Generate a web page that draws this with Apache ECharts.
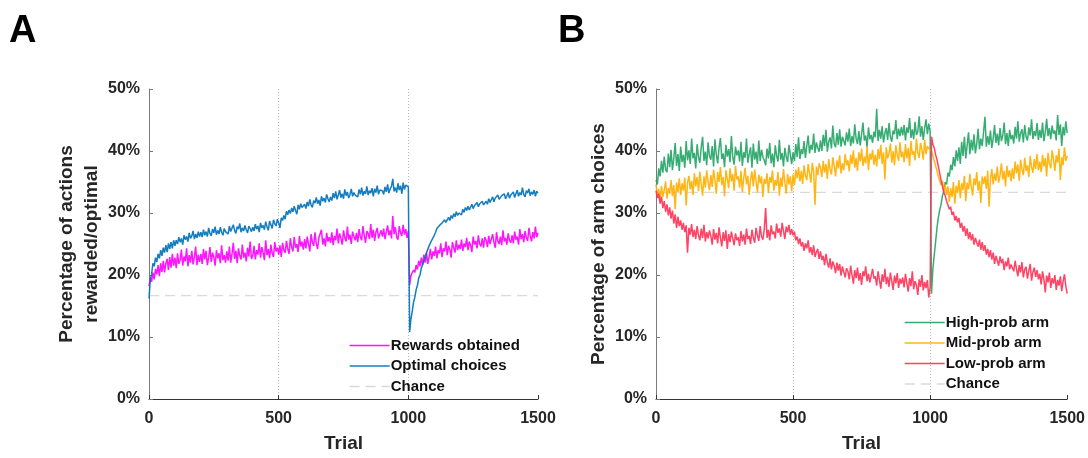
<!DOCTYPE html>
<html>
<head>
<meta charset="utf-8">
<title>Choice behaviour across trials</title>
<script src="https://cdn.jsdelivr.net/npm/echarts@6/dist/echarts.min.js"></script>
<style>
  html, body { margin: 0; padding: 0; background: #ffffff; }
  #chart { width: 1088px; height: 458px; }
</style>
</head>
<body>
<div id="chart"></div>
<script>
// Trials are sampled every 5 steps, from trial 0 to trial 1500 (301 samples per series).
const TRIAL_STEP = 5;

// Panel A: percentage of actions that were rewarded / optimal
const rewardsObtained = [
  18.2, 19.6, 18.9, 20.4, 19.3, 21.0, 20.1, 21.6, 19.8, 21.9, 20.5, 22.3, 20.4, 21.9, 22.6, 20.8, 22.9, 21.2, 23.4, 21.5,
  22.8, 21.1, 23.5, 21.8, 22.4, 24.1, 21.5, 23.0, 22.2, 24.3, 21.4, 23.2, 22.0, 23.9, 21.7, 22.9, 24.6, 21.6, 23.3, 22.1,
  23.4, 21.8, 24.2, 22.5, 23.9, 21.6, 22.8, 24.5, 22.1, 23.6, 22.9, 21.5, 24.0, 22.7, 23.5, 21.9, 24.8, 22.4, 23.2, 22.0,
  23.8, 22.3, 24.6, 22.0, 23.4, 25.2, 22.6, 23.9, 21.9, 24.3, 23.1, 22.5, 24.9, 22.8, 23.6, 22.2, 24.4, 23.0, 25.4, 22.6,
  23.1, 24.7, 22.5, 24.0, 23.3, 25.1, 22.8, 24.5, 23.6, 22.4, 25.6, 23.2, 24.2, 22.7, 24.9, 23.5, 22.9, 25.3, 23.8, 24.4,
  23.3, 24.8, 22.9, 25.2, 24.0, 23.6, 25.5, 24.2, 23.4, 25.9, 24.5, 23.8, 26.1, 24.4, 25.0, 23.7, 26.3, 24.6, 25.4, 24.1,
  25.8, 24.3, 26.2, 25.0, 23.8, 26.6, 25.3, 24.7, 26.9, 25.1, 24.2, 26.0, 25.7, 27.3, 24.9, 25.9, 24.6, 26.8, 25.4, 26.1,
  25.2, 26.9, 24.8, 26.3, 25.6, 27.5, 25.1, 26.7, 25.9, 24.9, 27.2, 26.0, 25.4, 27.8, 25.7, 26.5, 25.0, 27.0, 26.2, 25.6,
  26.8, 25.3, 27.4, 26.1, 25.6, 27.9, 26.4, 25.2, 27.1, 26.7, 25.8, 28.2, 26.0, 27.3, 25.5, 26.9, 27.6, 25.9, 26.6, 27.2,
  26.2, 27.5, 25.8, 26.9, 28.0, 26.4, 27.2, 25.9, 29.5, 26.6, 27.7, 26.1, 25.7, 27.9, 26.8, 26.3, 28.1, 26.5, 27.4, 26.0,
  27.1, 18.4, 19.9, 19.6, 20.8, 20.4, 21.6, 20.9, 22.3, 21.4, 22.8, 21.6, 23.3, 22.0, 23.6, 21.8, 22.9, 24.2, 22.5, 23.8,
  23.1, 24.6, 22.7, 24.0, 23.5, 25.1, 22.9, 24.3, 23.8, 25.4, 23.2, 24.7, 24.1, 22.8, 25.3, 24.4, 23.6, 25.6, 24.0, 24.9,
  24.2, 25.7, 23.9, 25.1, 24.5, 26.0, 24.0, 25.4, 24.8, 23.7, 26.2, 24.9, 25.5, 24.3, 26.4, 25.0, 24.6, 25.9, 24.4, 26.1,
  25.6, 24.5, 26.3, 25.0, 24.7, 26.6, 25.3, 24.4, 26.9, 25.5, 25.0, 26.2, 24.8, 27.2, 25.4, 26.0, 24.9, 26.7, 25.6, 25.2,
  26.4, 25.1, 27.0, 25.7, 26.2, 24.9, 27.4, 25.8, 26.6, 25.3, 27.1, 26.0, 25.5, 27.6, 26.3, 25.4, 26.9, 25.9, 27.8, 26.1,
  26.8
];

const optimalChoices = [
  16.2, 19.3, 20.1, 21.9, 21.4, 22.8, 22.1, 23.4, 22.7, 24.0, 23.1, 24.4, 23.6, 24.8, 23.7, 25.1, 24.2, 25.3, 24.3, 25.6,
  24.7, 25.6, 25.0, 26.1, 25.3, 25.9, 24.9, 26.4, 25.7, 26.2, 25.4, 26.8, 25.9, 26.3, 27.1, 25.8, 26.6, 26.0, 27.0, 26.2,
  26.9, 26.1, 27.3, 26.4, 27.0, 26.2, 27.6, 26.7, 26.3, 27.4, 26.8, 27.8, 26.5, 27.2, 26.6, 27.7, 26.9, 26.4, 27.5, 27.0,
  27.3, 26.6, 27.9, 27.0, 26.8, 28.1, 27.2, 26.7, 27.8, 27.4, 28.3, 26.9, 27.6, 27.1, 28.0, 27.3, 26.8, 27.9, 27.5, 27.0,
  27.7, 27.1, 28.2, 27.4, 27.9, 26.9, 28.4, 27.6, 28.0, 27.3, 28.6, 27.8, 27.2, 28.7, 28.1, 27.5, 28.9, 28.3, 27.9, 29.0,
  28.4, 27.6, 29.2, 28.8, 29.6, 29.0, 30.3, 29.7, 30.5, 29.9, 30.8, 30.2, 31.1, 30.4, 29.8, 31.3, 30.6, 31.5, 30.9, 31.2,
  31.4, 30.7, 31.8, 31.1, 32.2, 31.3, 30.9, 32.0, 31.6, 32.5, 31.5, 32.1, 31.2, 32.7, 31.9, 32.4, 31.7, 33.0, 32.3, 31.8,
  32.6, 32.0, 33.2, 32.4, 33.5, 32.2, 32.9, 33.7, 32.5, 33.1, 32.3, 33.8, 32.8, 33.4, 32.4, 33.0, 33.9, 32.7, 33.3, 32.9,
  33.2, 32.6, 33.8, 33.0, 34.1, 32.8, 33.5, 33.1, 34.3, 32.9, 33.6, 33.2, 34.0, 32.7, 33.9, 33.3, 34.4, 33.0, 33.7, 33.4,
  33.6, 33.0, 34.2, 33.4, 34.6, 33.2, 33.9, 34.3, 35.5, 33.5, 34.1, 33.3, 34.8, 33.7, 34.4, 33.1, 34.9, 33.8, 34.5, 34.7,
  34.2, 10.8, 12.9, 14.1, 15.6, 16.4, 17.6, 18.3, 19.5, 20.0, 21.1, 21.4, 22.3, 22.9, 23.6, 23.8, 24.7, 24.9, 25.6, 25.9,
  26.4, 26.9, 27.5, 27.2, 28.0, 27.7, 28.4, 28.1, 28.9, 28.5, 28.7, 29.3, 28.8, 29.6, 29.1, 29.9, 29.4, 30.2, 29.6, 30.0,
  30.3, 29.7, 30.6, 30.1, 30.9, 30.4, 31.1, 30.5, 30.8, 31.4, 30.7, 31.2, 30.9, 31.7, 31.0, 31.5, 31.2, 31.9, 31.3, 31.6,
  31.9, 31.4, 32.3, 31.7, 32.0, 32.6, 31.8, 32.4, 32.1, 32.9, 32.2, 31.9, 32.8, 32.5, 33.1, 32.3, 32.7, 33.3, 32.4, 32.9,
  32.8, 33.4, 32.5, 33.1, 33.7, 32.7, 33.3, 32.9, 34.1, 33.0, 32.6, 33.6, 33.2, 33.9, 32.8, 33.4, 33.0, 33.7, 32.7, 33.5,
  33.2
];

// Panel B: percentage of choices going to each arm
const highProbArm = [
  35.3, 34.6, 37.2, 35.9, 38.4, 36.5, 39.1, 37.0, 36.6, 39.6, 37.4, 40.2, 36.9, 38.8, 41.3, 37.6, 39.5, 36.8, 40.7, 38.2,
  39.4, 37.3, 41.6, 38.5, 40.1, 37.9, 42.0, 38.8, 39.7, 37.2, 41.1, 39.0, 38.1, 40.6, 42.3, 38.4, 39.9, 37.7, 41.4, 39.2,
  38.6, 40.8, 37.5, 41.9, 39.4, 38.0, 40.5, 42.1, 38.7, 39.6, 37.4, 41.0, 39.1, 40.3, 38.2, 42.4, 39.0, 37.8, 40.7, 39.3,
  40.1, 38.3, 41.5, 37.6, 39.8, 38.9, 42.0, 38.1, 39.5, 40.6, 37.3, 41.2, 38.6, 39.9, 37.9, 41.7, 38.4, 40.2, 39.0, 38.5,
  37.7, 40.4, 38.8, 41.3, 38.0, 39.6, 37.4, 40.9, 39.2, 38.3, 41.8, 38.6, 39.7, 37.5, 40.5, 39.1, 38.2, 41.0, 39.4, 37.9,
  39.8, 38.4, 41.1, 39.0, 42.2, 38.7, 40.3, 39.5, 41.6, 38.9, 40.8, 42.5, 39.6, 41.0, 40.2, 42.8, 39.7, 41.4, 40.5, 39.9,
  41.7, 40.0, 42.6, 40.8, 43.4, 39.9, 41.5, 42.2, 40.4, 44.1, 41.2, 40.6, 42.9, 41.0, 43.5, 40.7, 42.3, 41.6, 40.9, 43.0,
  41.5, 43.6, 40.8, 42.4, 41.2, 44.3, 42.0, 41.1, 43.2, 40.9, 42.7, 44.6, 41.7, 42.5, 40.6, 43.8, 41.9, 42.6, 41.3, 43.1,
  42.2, 46.8, 41.6, 43.4, 42.0, 44.0, 41.4, 42.9, 43.7, 41.8, 44.5, 42.3, 41.5, 43.3, 42.7, 45.0, 41.9, 43.6, 42.4, 43.9,
  42.5, 44.2, 41.7, 43.8, 42.9, 45.3, 42.1, 43.5, 41.9, 44.7, 42.6, 43.1, 45.6, 42.3, 44.0, 41.8, 43.7, 45.1, 42.7, 44.4,
  43.2, 17.0, 21.0, 23.2, 25.4, 27.6, 29.3, 30.5, 31.4, 32.8, 33.6, 35.0, 34.6, 36.5, 35.9, 37.8, 36.9, 39.0, 37.5, 40.1,
  38.4, 40.6, 37.9, 41.5, 39.2, 42.3, 38.8, 40.9, 43.0, 39.5, 41.8, 40.1, 42.7, 39.6, 41.2, 43.6, 40.3, 42.0, 40.8, 43.1,
  45.5, 40.7, 42.4, 41.0, 43.3, 40.5, 42.0, 44.2, 41.3, 42.8, 40.9, 43.7, 41.6, 42.5, 44.6, 41.1, 42.9, 40.8, 43.4, 41.9,
  42.6, 41.2, 43.9, 42.0, 44.8, 41.5, 42.9, 43.5, 41.4, 44.2, 42.3, 41.7, 43.8, 42.5, 45.1, 41.9, 43.2, 42.4, 44.5, 41.8,
  43.4, 42.1, 44.6, 41.6, 43.0, 45.2, 42.4, 43.7, 41.9, 44.1, 42.8, 43.3, 41.7, 45.8, 42.6, 44.3, 40.8, 43.9, 42.5, 44.8,
  42.9
];

const midProbArm = [
  34.6, 32.8, 33.9, 31.9, 34.4, 32.6, 33.7, 35.1, 32.3, 34.0, 33.1, 35.3, 32.7, 34.5, 30.6, 34.9, 33.4, 35.6, 32.9, 34.8,
  33.6, 35.7, 31.2, 34.9, 36.0, 33.8, 35.2, 32.9, 36.4, 34.3, 35.8, 33.5, 36.7, 34.6, 32.8, 35.9, 34.1, 36.9, 35.0, 33.7,
  36.1, 34.2, 37.0, 35.3, 33.1, 36.6, 35.0, 37.4, 34.5, 35.8, 32.7, 36.9, 35.5, 34.0, 37.2, 35.1, 36.3, 33.6, 37.6, 35.4,
  35.9, 34.1, 36.8, 33.4, 35.6, 37.3, 34.6, 36.0, 32.9, 35.4, 36.7, 34.3, 37.0, 35.2, 33.3, 36.2, 34.8, 35.9, 32.6, 35.5,
  34.7, 36.4, 33.2, 35.8, 34.9, 36.9, 33.6, 35.3, 34.4, 36.6, 32.8, 35.7, 34.2, 37.1, 35.0, 33.1, 36.3, 34.6, 35.9, 33.5,
  36.2, 34.5, 37.0, 35.6, 37.4, 35.1, 36.8, 34.7, 37.7, 36.0, 35.3, 37.9, 36.4, 34.9, 38.1, 36.7, 31.3, 37.5, 36.1, 38.0,
  37.3, 35.8, 38.4, 36.5, 37.9, 35.5, 38.7, 37.0, 36.2, 39.0, 37.6, 35.9, 38.5, 37.2, 39.3, 36.4, 38.0, 36.9, 39.5, 37.7,
  38.5, 36.7, 39.4, 37.9, 40.1, 37.3, 38.9, 36.8, 39.8, 38.3, 40.4, 37.6, 39.1, 38.0, 40.7, 36.9, 39.6, 38.6, 40.2, 37.8,
  39.4, 37.5, 40.3, 38.7, 41.0, 37.9, 39.8, 35.4, 40.6, 38.8, 39.6, 41.2, 38.1, 40.0, 37.7, 40.9, 39.3, 38.4, 41.4, 39.0,
  39.9, 38.2, 41.1, 38.8, 40.5, 37.6, 41.6, 39.4, 40.0, 38.5, 42.0, 39.7, 38.9, 41.3, 40.2, 38.6, 41.8, 39.5, 40.8, 40.4,
  40.6, 40.0, 39.2, 38.9, 37.6, 37.4, 35.9, 36.1, 34.5, 35.2, 33.4, 34.6, 32.9, 34.3, 31.8, 34.0, 32.6, 35.0, 31.5, 34.4,
  33.2, 35.3, 32.4, 34.8, 33.7, 36.0, 31.9, 34.9, 33.8, 36.3, 34.2, 32.8, 35.6, 34.5, 36.6, 33.6, 35.2, 31.6, 35.9, 34.7,
  35.9, 33.9, 36.8, 31.0, 35.5, 37.1, 34.6, 36.4, 35.2, 37.5, 34.9, 36.1, 38.0, 35.4, 36.8, 34.3, 37.6, 35.8, 36.9, 35.1,
  37.2, 35.5, 38.3, 36.4, 37.8, 35.2, 38.6, 37.0, 36.1, 38.9, 36.8, 37.7, 35.8, 39.2, 37.4, 36.5, 38.7, 37.1, 39.5, 36.9,
  38.3, 36.6, 39.4, 37.5, 38.9, 35.9, 39.7, 38.0, 37.2, 40.1, 38.6, 36.8, 39.3, 38.1, 40.4, 35.3, 39.0, 37.7, 40.6, 38.4,
  39.2
];

const lowProbArm = [
  33.6, 32.4, 33.1, 31.5, 32.6, 30.8, 31.9, 30.2, 31.4, 29.6, 30.9, 29.1, 30.4, 28.3, 29.8, 27.6, 29.4, 27.9, 28.8, 27.3,
  28.4, 26.9, 28.0, 23.6, 27.6, 26.5, 28.2, 26.1, 27.3, 25.8, 27.9, 26.4, 25.6, 27.5, 26.0, 28.1, 25.4, 26.9, 25.9, 27.2,
  26.3, 24.9, 27.4, 25.7, 26.8, 25.1, 27.7, 26.0, 24.6, 26.9, 25.5, 27.2, 24.2, 26.6, 25.3, 27.0, 25.9, 24.8, 26.7, 25.6,
  26.1, 24.7, 27.1, 25.4, 26.5, 24.9, 27.5, 25.8, 26.3, 25.0, 27.3, 26.0, 25.2, 27.6, 26.4, 25.5, 27.9, 26.2, 25.7, 27.4,
  30.8, 26.0, 27.3, 25.6, 28.0, 26.6, 27.0, 25.9, 28.3, 26.8, 27.5, 26.2, 28.4, 27.1, 25.8, 27.8, 26.9, 28.1, 26.5, 27.4,
  26.4, 27.0, 25.6, 26.2, 25.0, 25.9, 24.6, 25.3, 23.9, 25.1, 24.3, 25.6, 23.6, 24.5, 23.2, 24.8, 22.9, 23.7, 24.2, 22.6,
  23.8, 22.4, 23.1, 21.6, 23.4, 22.0, 21.2, 22.7, 20.9, 22.2, 21.5, 20.3, 22.0, 20.7, 21.8, 19.9, 21.4, 20.5, 19.6, 21.1,
  20.6, 19.3, 21.5, 20.0, 18.6, 20.8, 19.5, 21.2, 19.1, 20.3, 18.4, 20.6, 19.8, 21.4, 19.0, 20.2, 18.8, 19.9, 21.0, 19.4,
  19.8, 18.3, 20.6, 19.2, 17.8, 20.1, 18.9, 21.0, 18.5, 19.7, 18.1, 20.4, 19.0, 17.6, 19.9, 18.7, 20.3, 17.9, 19.4, 18.6,
  19.6, 18.0, 20.2, 18.7, 17.3, 19.5, 18.2, 20.6, 17.7, 19.0, 18.4, 16.8, 19.3, 18.1, 20.0, 17.5, 18.9, 17.9, 19.2, 16.4,
  18.0, 42.3, 41.1, 40.5, 39.4, 38.6, 37.5, 36.4, 35.2, 34.3, 33.3, 32.8, 31.9, 31.3, 30.6, 31.0, 29.7, 30.2, 28.8, 29.5,
  28.5, 29.2, 27.6, 28.4, 27.0, 27.9, 26.3, 27.5, 25.8, 26.9, 25.6, 26.6, 24.9, 26.0, 25.2, 24.6, 25.7, 24.1, 25.3, 23.9,
  24.8, 23.3, 24.2, 22.9, 24.0, 22.5, 23.6, 21.8, 23.1, 22.3, 21.5, 23.0, 21.9, 22.6, 20.8, 22.2, 21.4, 22.8, 20.9, 21.7,
  21.9, 20.6, 22.3, 21.0, 19.8, 21.6, 20.4, 22.1, 19.6, 20.9, 21.3, 19.4, 20.7, 21.8, 19.1, 20.5, 21.2, 19.7, 20.8, 19.3,
  20.2, 18.5, 20.6, 19.3, 17.2, 19.9, 18.8, 20.4, 17.9, 19.5, 18.6, 20.0, 17.6, 19.2, 18.3, 19.8, 17.4, 19.0, 20.1, 18.2,
  17.0
];

// Chance levels: 1 of 6 actions (panel A) and 1 of 3 arms (panel B)
const chanceA = 100 / 6;
const chanceB = 100 / 3;
const trialRange = [0, 1500];

const FONT = '"Liberation Sans", Arial, Helvetica, sans-serif';
const TEXT = '#262626';

function withTrials(values) {
  return values.map((v, i) => [i * TRIAL_STEP, v]);
}
function flatLine(level) {
  return trialRange.map(t => [t, level]);
}

function xAxisFor(gridIndex) {
  return {
    gridIndex, type: 'value', min: 0, max: 1500, interval: 500,
    name: 'Trial', nameLocation: 'middle', nameGap: 35,
    nameTextStyle: { fontFamily: FONT, fontSize: 19, fontWeight: 'bold', color: TEXT },
    axisLine: { show: true, onZero: false, lineStyle: { color: '#333333', width: 1 } },
    axisTick: { show: true, inside: true, length: 4, lineStyle: { color: '#333333' } },
    axisLabel: { fontFamily: FONT, fontSize: 16, fontWeight: 'bold', color: TEXT, margin: 12,
      formatter: v => String(v) },
    splitLine: { show: true, showMinLine: false, showMaxLine: false,
      lineStyle: { type: [1, 2], color: '#b8b8b8', width: 1 } }
  };
}
function yAxisFor(gridIndex, name) {
  return {
    gridIndex, type: 'value', min: 0, max: 50, interval: 10,
    name, nameLocation: 'middle', nameGap: 45,
    nameTextStyle: { fontFamily: FONT, fontSize: 19, fontWeight: 'bold', color: TEXT, lineHeight: 25 },
    axisLine: { show: true, lineStyle: { color: '#7a7a7a', width: 1 } },
    axisTick: { show: true, inside: true, length: 4, lineStyle: { color: '#7a7a7a' } },
    axisLabel: { fontFamily: FONT, fontSize: 16, fontWeight: 'bold', color: TEXT, margin: 9,
      formatter: '{value}%' },
    splitLine: { show: false }
  };
}
function lineSeries(name, data, color, axisIndex, extra) {
  return Object.assign({
    name, type: 'line', xAxisIndex: axisIndex, yAxisIndex: axisIndex,
    data, showSymbol: false, symbol: 'none', silent: true,
    lineStyle: { color, width: 1.5, opacity: 0.92 },
    itemStyle: { color, opacity: 0 },
    emphasis: { disabled: true }
  }, extra || {});
}
function chanceSeries(level, axisIndex) {
  return lineSeries('Chance', flatLine(level), '#d9d9d9', axisIndex, {
    lineStyle: { color: '#d9d9d9', width: 1.3, type: [10, 6] }, z: 1
  });
}
function legendAt(left, top, names) {
  return {
    left, top, orient: 'vertical', itemWidth: 40, itemHeight: 14, itemGap: 5.5,
    selectedMode: false, data: names,
    itemStyle: { opacity: 0 },
    lineStyle: { width: 1.3 },
    textStyle: { fontFamily: FONT, fontSize: 15, fontWeight: 'bold', color: '#111111', padding: [0, 0, 0, -4] }
  };
}

const chart = echarts.init(document.getElementById('chart'), null, { renderer: 'canvas' });
chart.setOption({
  animation: false,
  backgroundColor: '#ffffff',
  grid: [
    { left: 149, top: 89, width: 389, height: 316 },
    { left: 656, top: 89, width: 415, height: 316 }
  ],
  xAxis: [xAxisFor(0), xAxisFor(1)],
  yAxis: [
    yAxisFor(0, 'Percentage of actions\nrewarded/optimal'),
    yAxisFor(1, 'Percentage of arm choices')
  ],
  legend: [
    legendAt(344, 333, ['Rewards obtained', 'Optimal choices', 'Chance']),
    legendAt(899, 310, ['High-prob arm', 'Mid-prob arm', 'Low-prob arm', 'Chance'])
  ],
  series: [
    chanceSeries(chanceA, 0),
    lineSeries('Rewards obtained', withTrials(rewardsObtained), '#ff00ff', 0),
    lineSeries('Optimal choices', withTrials(optimalChoices), '#0072bd', 0),
    chanceSeries(chanceB, 1),
    lineSeries('High-prob arm', withTrials(highProbArm), '#25a567', 1),
    lineSeries('Mid-prob arm', withTrials(midProbArm), '#ffb000', 1),
    lineSeries('Low-prob arm', withTrials(lowProbArm), '#ff3358', 1)
  ],
  graphic: [
    { type: 'text', left: 9, top: 13, silent: true,
      style: { text: 'A', font: 'bold 38px ' + FONT, fill: '#000000' } },
    { type: 'text', left: 558, top: 13, silent: true,
      style: { text: 'B', font: 'bold 38px ' + FONT, fill: '#000000' } }
  ]
});
</script>
</body>
</html>
